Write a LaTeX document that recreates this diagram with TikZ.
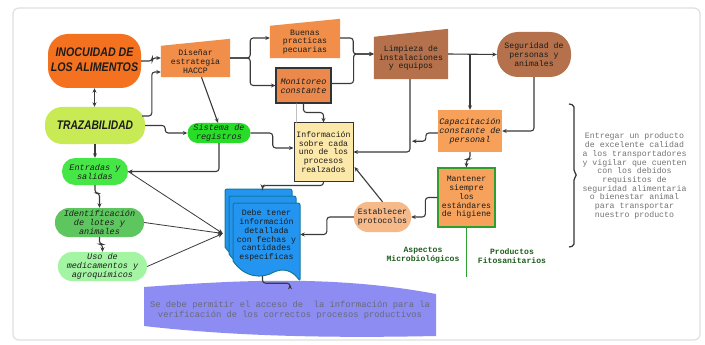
\documentclass[tikz,border=0pt]{standalone}
\usepackage{fontspec}
\setmainfont{Liberation Sans}
\setmonofont{Liberation Mono}
\usetikzlibrary{arrows.meta,backgrounds,calc}
\definecolor{cInoc}{HTML}{F4711F}
\definecolor{cTraz}{HTML}{C8EB55}
\definecolor{cHacc}{HTML}{F08E4A}
\definecolor{cMoni}{HTML}{EA894B}
\definecolor{cBrown}{HTML}{B4714B}
\definecolor{cSist}{HTML}{27DD27}
\definecolor{cInfo}{HTML}{FCE8A8}
\definecolor{cCapa}{HTML}{F7A05A}
\definecolor{cMant}{HTML}{F6A25C}
\definecolor{cMantB}{HTML}{2E9E2E}
\definecolor{cEsta}{HTML}{F5B98A}
\definecolor{cEntr}{HTML}{46E646}
\definecolor{cIden}{HTML}{5EC65E}
\definecolor{cUso}{HTML}{A3F5A3}
\definecolor{cDoc}{HTML}{2394F0}
\definecolor{cDocB}{HTML}{13789A}
\definecolor{cBand}{HTML}{8C8CF2}
\definecolor{cBandT}{HTML}{6A6A7A}
\definecolor{cGreenT}{HTML}{1E5E1E}
\definecolor{cGray}{HTML}{747474}
\definecolor{lc}{HTML}{3A3A3A}
\definecolor{dk}{HTML}{333333}
\definecolor{txt}{HTML}{1C1C1C}
\definecolor{frame}{HTML}{E0E0E0}
\tikzset{
  tt/.style={inner sep=0pt, align=center, text=txt, font=\ttfamily\fontsize{8.2}{8.8}\selectfont},
  ti/.style={tt, font=\ttfamily\itshape\fontsize{8.5}{9}\selectfont},
  asp/.style={inner sep=0pt, align=center, text=cGreenT, font=\ttfamily\bfseries\fontsize{8.1}{8.8}\selectfont},
  titl/.style={inner sep=0pt, align=center, text=txt, font=\bfseries\itshape\fontsize{12.5}{14.5}\selectfont},
  conn/.style={draw=lc, line width=1.1pt, rounded corners=3pt, -{Stealth[length=4.5pt,width=4pt]}},
  thinconn/.style={draw=lc, line width=0.8pt, -{Stealth[length=5pt,width=4.5pt]}},
}
\newcommand\docsheet[2]{\filldraw[fill=cDoc, draw=cDocB, line width=1pt, rounded corners=2pt, shift={(#1,#2)}] (233,203) -- (300,203) -- (300,281) [sharp corners] .. controls (292,270) and (283,268) .. (274,272) .. controls (262,279) and (245,278) .. (233,261) [rounded corners=2pt] -- cycle;}
\begin{document}
\begin{tikzpicture}[x=1pt,y=-1pt]
\useasboundingbox (0,0) rectangle (705,345);

% nodes
\node[titl, fill=cInoc, rounded corners=20pt, minimum width=93pt, minimum height=54pt] (inoc) at (94.5,61) {\scalebox{0.85}[1]{\begin{tabular}{@{}c@{}}INOCUIDAD DE\\LOS ALIMENTOS\end{tabular}}};
\node[titl, fill=cTraz, rounded corners=17pt, minimum width=100pt, minimum height=37pt] (traz) at (95,125.5) {\scalebox{0.82}[1]{TRAZABILIDAD}};
\node[tt, minimum width=69pt, minimum height=31pt] (hacc) at (195.5,61.5) {Diseñar\\estrategia\\HACCP};
\node[tt, minimum width=70pt, minimum height=32pt] (buen) at (305,42) {Buenas\\practicas\\pecuarias};
\node[ti, fill=cMoni, draw=dk, line width=1.1pt, minimum width=55pt, minimum height=35pt] (moni) at (303.5,85.5) {Monitoreo\\constante};
\node[tt, minimum width=74pt, minimum height=42pt] (limp) at (411,58) {Limpieza de\\instalaciones\\y equipos};
\node[tt, fill=cBrown, rounded corners=21pt, minimum width=74pt, minimum height=45pt] (segu) at (534,54.5) {Seguridad de\\personas y\\animales};
\node[ti, fill=cSist, rounded corners=10pt, minimum width=63pt, minimum height=20pt] (sist) at (219,133) {Sistema de\\registros};
\node[tt, fill=cInfo, draw=dk, line width=1pt, minimum width=59pt, minimum height=58pt] (info) at (323.5,152) {Información\\sobre cada\\uno de los\\procesos\\realzados};
\node[ti, fill=cCapa, minimum width=64pt, minimum height=42pt] (capa) at (470,131) {Capacitación\\constante de\\personal};
\node[tt, fill=cMant, draw=cMantB, line width=1.2pt, minimum width=57pt, minimum height=59pt] (mant) at (466.5,197.5) {Mantener\\siempre\\los\\estándares\\de higiene};
\node[tt, fill=cEsta, rounded corners=14pt, minimum width=57pt, minimum height=30pt] (esta) at (382.5,217) {Establecer\\protocolos};
\node[ti, fill=cEntr, rounded corners=13pt, minimum width=66pt, minimum height=27pt] (entr) at (95,171.5) {Entradas y\\salidas};
\node[ti, fill=cIden, rounded corners=14pt, minimum width=89pt, minimum height=29pt] (iden) at (99.5,222.5) {Identificación\\de lotes y\\animales};
\node[ti, fill=cUso, rounded corners=14pt, minimum width=89pt, minimum height=29pt] (uso) at (102.5,266.5) {Uso de\\medicamentos y\\agroquímicos};
\node[tt, minimum width=67pt, minimum height=65pt] (doc) at (266.5,235.5) {Debe tener\\información\\detallada\\con fechas y\\cantidades\\especificas};
\node[tt, text=cBandT, font=\ttfamily\fontsize{8.8}{10}\selectfont, minimum width=292pt, minimum height=50pt] (band) at (290,310) {Se debe permitir el acceso de~ la información para la\\verificación de los correctos procesos productivos};
\node[asp] (aspm) at (423,255) {Aspectos\\Microbiológicos};
\node[asp] (prod) at (512,256) {Productos\\Fitosanitarios};
\node[tt, text=cGray, font=\ttfamily\fontsize{8.25}{8.7}\selectfont] (goal) at (634.5,176) {Entregar un producto\\de excelente calidad\\a los transportadores\\y vigilar que cuenten\\con los debidos\\requisitos de\\seguridad alimentaria\\o bienestar animal\\para transportar\\nuestro producto};

% background shapes
\begin{scope}[on background layer]
\fill[white] (0,0) rectangle (705,345);
\draw[frame, line width=1.2pt, rounded corners=6pt] (13,8) rectangle (700,340);
\fill[cHacc] (hacc.south west) -- (hacc.south east) -- ($(hacc.north east)+(0,-7)$) -- (hacc.north west) -- cycle;
\fill[cHacc] (buen.south west) -- (buen.south east) -- ($(buen.north east)+(0,-7)$) -- (buen.north west) -- cycle;
\fill[cBrown] (limp.south west) -- (limp.south east) -- ($(limp.north east)+(0,-8)$) -- (limp.north west) -- cycle;
\docsheet{-8}{-14}
\docsheet{-4}{-7}
\docsheet{0}{0}
\fill[cBand] (144,287) .. controls (230,281) and (330,274) .. (436,294) -- (436,336) .. controls (340,338) and (240,337) .. (144,326) -- cycle;
\end{scope}

% connectors
\draw[conn, {Stealth[length=4.5pt,width=4pt]}-{Stealth[length=4.5pt,width=4pt]}] (inoc.south) -- (inoc.south |- traz.north);
\draw[conn] (inoc.east) -- ++(11,0) |- ($(hacc.west)+(0,-3.5)$);
\draw[conn] ($(traz.east)+(-3,-9.5)$) -| ($(hacc.west)+(-9,10.5)$) -- ($(hacc.west)+(0,10.5)$);
\draw[conn] (traz.east) -- ++(20,0) |- (sist.west);
\draw[conn] (traz.south) -- (entr.north);
\draw[conn] ($(hacc.east)+(0,-3.5)$) -- ++(20,0) |- ($(buen.west)+(0,-4)$);
\draw[conn] ($(hacc.east)+(0,-3.5)$) -- ++(20,0) |- (moni.west);
\draw[conn] ($(hacc.south)+(6,0)$) -- ($(sist.north)+(-1,0)$);
\draw[conn] ($(buen.east)+(0,-4)$) -- ++(13,0) |- ($(limp.west)+(0,-4)$);
\draw[conn] ($(moni.east)+(0,-2)$) -- ++(22,0) |- ($(limp.west)+(0,-4)$);
\draw[conn] (moni.south) -- ++(0,9) -| (info.north);
\draw[draw=black!25, line width=0.6pt] ($(moni.south west)+(21,0)$) -- ($(info.north west)+(3,0)$);
\draw[conn] (sist.east) -- ++(22,0) |- ($(info.west)+(0,-4)$);
\draw[conn] (sist.south) |- (entr.east);
\draw[conn] ($(limp.east)+(0,-4)$) -- (segu.west);
\draw[conn] (capa.north |- segu.west) -- (capa.north);
\draw[conn] ($(limp.south)+(-1,0)$) |- (info.east);
\draw[conn] (segu.south) |- (capa.east);
\draw[conn] ($(capa.west)+(0,2)$) -- ++(-12,0) |- ($(limp.south)+(1,62)$);
\draw[conn] (capa.south) -- ++(0,7) -| (mant.north);
\draw[conn] (mant.west) -- ++(-12,0) |- (esta.east);
\draw[conn] (esta.north) -- ($(info.east)+(1,15)$);
\draw[conn] (esta.west) -- ++(-27,0) |- ($(doc.east)+(0,-1)$);
\draw[conn] (info.south) -- ++(0,4) -| ($(doc.north)+(-4,-14)$);
\draw[thinconn] (entr.east) -- ($(doc.west)+(-10,-2)$);
\draw[thinconn] (iden.east) -- ($(doc.west)+(-10,-2)$);
\draw[thinconn] (uso.east) -- ($(doc.west)+(-10,-2)$);
\draw[conn] (entr.south) -- ++(0,8) -| (iden.north);
\draw[conn] (iden.south) -- ++(0,7) -| (uso.north);
\draw[conn] ($(doc.south)+(-4,8)$) -- ++(0,7) -| (band.north);
\draw[cMantB, line width=1.2pt] (mant.south) -- ++(0,49);
% brace
\draw[dk, line width=1.2pt, rounded corners=2pt] (569,104) -- (574,105) -- (574,172) -- (577,175) -- (574,178) -- (574,246) -- (569,247);
\end{tikzpicture}
\end{document}
